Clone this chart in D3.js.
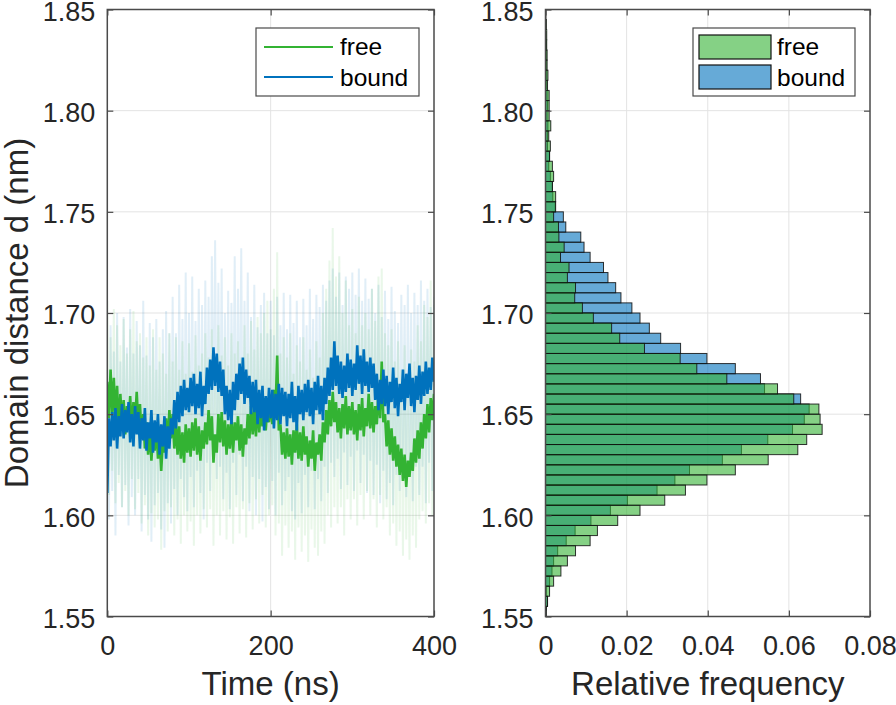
<!DOCTYPE html>
<html>
<head>
<meta charset="utf-8">
<script src="https://cdn.jsdelivr.net/npm/d3@7/dist/d3.min.js"></script>
<style>
html,body{margin:0;padding:0;background:#fff;}
svg{display:block;font-family:"Liberation Sans",Arial,Helvetica,sans-serif;}
</style>
</head>
<body>
<svg id="chart" width="896" height="705"></svg>
<script>
// ---------- DATA ----------
const timeStepNs = 2; // sampling of the plotted traces (0..400 ns)
const timeTicks = [0, 200, 400];
const distTicks = [1.55, 1.60, 1.65, 1.70, 1.75, 1.80, 1.85];
const freqTicks = [0, 0.02, 0.04, 0.06, 0.08];
const seriesNames = ["free", "bound"];

// running averages (thick lines), t = 0,2,...,400 ns
const boundMean = [
1.611,1.648,1.634,1.651,1.637,1.653,1.633,1.649,1.639,1.655,
1.638,1.652,1.641,1.656,1.636,1.650,1.634,1.654,1.640,1.651,
1.633,1.648,1.637,1.653,1.632,1.646,1.638,1.652,1.631,1.647,
1.636,1.650,1.630,1.645,1.634,1.649,1.628,1.644,1.633,1.648,
1.640,1.657,1.643,1.661,1.646,1.664,1.649,1.667,1.652,1.663,
1.651,1.668,1.654,1.670,1.650,1.665,1.653,1.671,1.649,1.664,
1.655,1.673,1.660,1.677,1.662,1.683,1.664,1.680,1.661,1.676,
1.659,1.672,1.650,1.664,1.647,1.662,1.645,1.666,1.652,1.670,
1.657,1.675,1.660,1.678,1.655,1.672,1.658,1.669,1.650,1.666,
1.651,1.667,1.645,1.662,1.648,1.664,1.642,1.659,1.646,1.663,
1.648,1.662,1.643,1.660,1.647,1.665,1.645,1.663,1.649,1.661,
1.644,1.660,1.648,1.666,1.646,1.659,1.642,1.664,1.650,1.662,
1.647,1.665,1.651,1.667,1.649,1.663,1.645,1.666,1.652,1.669,
1.650,1.664,1.647,1.668,1.655,1.673,1.659,1.678,1.662,1.686,
1.664,1.679,1.660,1.676,1.658,1.674,1.661,1.680,1.663,1.677,
1.659,1.675,1.662,1.684,1.665,1.679,1.660,1.682,1.664,1.676,
1.661,1.678,1.663,1.675,1.657,1.670,1.652,1.667,1.655,1.672,
1.654,1.669,1.650,1.666,1.656,1.673,1.653,1.668,1.649,1.665,
1.656,1.672,1.652,1.670,1.658,1.675,1.654,1.668,1.651,1.669,
1.657,1.674,1.655,1.671,1.659,1.676,1.660,1.673,1.662,1.678,
1.666];

const freeMean = [
1.666,1.648,1.672,1.650,1.668,1.646,1.664,1.641,1.660,1.644,
1.657,1.640,1.654,1.643,1.659,1.641,1.656,1.645,1.661,1.644,
1.655,1.638,1.650,1.633,1.646,1.630,1.644,1.627,1.641,1.632,
1.645,1.628,1.640,1.622,1.637,1.631,1.648,1.634,1.652,1.638,
1.650,1.633,1.647,1.630,1.644,1.628,1.641,1.626,1.645,1.631,
1.643,1.629,1.646,1.632,1.648,1.630,1.644,1.627,1.642,1.633,
1.646,1.635,1.652,1.637,1.649,1.626,1.640,1.631,1.650,1.636,
1.651,1.634,1.647,1.630,1.645,1.633,1.648,1.631,1.646,1.637,
1.649,1.632,1.645,1.629,1.643,1.635,1.650,1.638,1.654,1.640,
1.652,1.639,1.656,1.641,1.653,1.644,1.658,1.642,1.655,1.646,
1.657,1.645,1.662,1.652,1.679,1.642,1.645,1.630,1.641,1.628,
1.643,1.629,1.640,1.625,1.642,1.631,1.645,1.628,1.641,1.627,
1.644,1.630,1.639,1.624,1.637,1.628,1.642,1.622,1.636,1.630,
1.640,1.627,1.646,1.636,1.652,1.640,1.657,1.644,1.661,1.646,
1.656,1.641,1.653,1.638,1.655,1.643,1.659,1.640,1.654,1.642,
1.656,1.640,1.652,1.637,1.655,1.642,1.658,1.639,1.653,1.644,
1.660,1.643,1.656,1.641,1.654,1.645,1.662,1.648,1.676,1.646,
1.650,1.634,1.647,1.630,1.643,1.627,1.639,1.624,1.635,1.620,
1.633,1.617,1.630,1.614,1.627,1.619,1.631,1.622,1.638,1.626,
1.642,1.628,1.646,1.633,1.650,1.638,1.655,1.641,1.658,1.647,
1.660];

// raw traces (faint lines), t = 0,2,...,400 ns
const boundRaw = [
1.672,1.598,1.694,1.612,1.681,1.590,1.700,1.620,1.676,1.604,
1.698,1.615,1.683,1.595,1.702,1.609,1.680,1.600,1.696,1.618,
1.684,1.592,1.706,1.610,1.679,1.598,1.695,1.587,1.688,1.605,
1.697,1.611,1.676,1.593,1.692,1.584,1.701,1.606,1.690,1.596,
1.708,1.613,1.690,1.600,1.714,1.618,1.697,1.609,1.720,1.602,
1.700,1.619,1.718,1.604,1.696,1.622,1.712,1.611,1.704,1.598,
1.716,1.626,1.708,1.612,1.728,1.630,1.736,1.618,1.715,1.624,
1.722,1.608,1.700,1.621,1.711,1.603,1.705,1.626,1.728,1.610,
1.712,1.630,1.732,1.607,1.706,1.624,1.720,1.602,1.698,1.619,
1.714,1.600,1.693,1.618,1.704,1.597,1.710,1.614,1.690,1.603,
1.706,1.617,1.689,1.600,1.708,1.621,1.694,1.605,1.710,1.612,
1.692,1.619,1.709,1.602,1.695,1.598,1.706,1.616,1.688,1.601,
1.707,1.620,1.694,1.604,1.712,1.622,1.697,1.603,1.709,1.618,
1.703,1.607,1.714,1.624,1.706,1.611,1.716,1.626,1.722,1.619,
1.708,1.628,1.720,1.613,1.704,1.631,1.718,1.615,1.712,1.629,
1.720,1.612,1.709,1.632,1.722,1.616,1.706,1.630,1.717,1.611,
1.707,1.627,1.712,1.610,1.700,1.625,1.714,1.606,1.698,1.622,
1.711,1.608,1.697,1.616,1.713,1.605,1.701,1.620,1.695,1.612,
1.709,1.618,1.704,1.609,1.714,1.622,1.700,1.607,1.710,1.624,
1.704,1.610,1.716,1.624,1.706,1.606,1.712,1.626,1.703,1.612,
1.708];

const freeRaw = [
1.706,1.610,1.688,1.622,1.702,1.606,1.694,1.616,1.684,1.604,
1.697,1.612,1.680,1.600,1.692,1.618,1.701,1.603,1.686,1.611,
1.690,1.596,1.678,1.605,1.688,1.590,1.674,1.601,1.692,1.594,
1.672,1.598,1.688,1.583,1.680,1.602,1.670,1.592,1.690,1.604,
1.676,1.590,1.688,1.598,1.672,1.586,1.686,1.600,1.670,1.592,
1.685,1.597,1.671,1.585,1.689,1.600,1.674,1.591,1.680,1.603,
1.690,1.594,1.678,1.603,1.692,1.585,1.676,1.600,1.694,1.590,
1.679,1.602,1.688,1.588,1.674,1.599,1.690,1.586,1.680,1.604,
1.686,1.591,1.678,1.603,1.694,1.589,1.680,1.606,1.696,1.593,
1.682,1.608,1.698,1.596,1.690,1.610,1.700,1.594,1.706,1.600,
1.692,1.605,1.712,1.590,1.730,1.596,1.680,1.580,1.688,1.595,
1.678,1.584,1.690,1.592,1.670,1.578,1.684,1.594,1.676,1.582,
1.688,1.590,1.672,1.577,1.682,1.593,1.668,1.584,1.686,1.580,
1.678,1.592,1.700,1.586,1.712,1.600,1.726,1.594,1.742,1.604,
1.718,1.596,1.728,1.604,1.700,1.590,1.716,1.608,1.694,1.598,
1.702,1.608,1.690,1.595,1.708,1.610,1.694,1.598,1.700,1.612,
1.692,1.600,1.712,1.608,1.696,1.594,1.718,1.610,1.722,1.598,
1.690,1.604,1.684,1.590,1.692,1.596,1.676,1.585,1.686,1.592,
1.672,1.580,1.684,1.588,1.668,1.578,1.682,1.590,1.676,1.584,
1.694,1.598,1.686,1.602,1.704,1.596,1.698,1.606,1.716,1.600,
1.704];

// histogram: bin edges (nm) and relative frequency per bin
const binEdges = [1.550,1.555,1.560,1.565,1.570,1.575,1.580,1.585,1.590,1.595,
1.600,1.605,1.610,1.615,1.620,1.625,1.630,1.635,1.640,1.645,
1.650,1.655,1.660,1.665,1.670,1.675,1.680,1.685,1.690,1.695,
1.700,1.705,1.710,1.715,1.720,1.725,1.730,1.735,1.740,1.745,
1.750,1.755,1.760,1.765,1.770,1.775,1.780,1.785,1.790,1.795,
1.800,1.805,1.810,1.815,1.820,1.825,1.830,1.835,1.840,1.845,1.850];

const freeHist = [
0.0002,0.0005,0.0010,0.0020,0.0038,0.0054,0.0074,0.0110,0.0128,0.0178,
0.0233,0.0294,0.0345,0.0398,0.0468,0.0549,0.0622,0.0644,0.0682,0.0677,
0.0674,0.0612,0.0572,0.0447,0.0373,0.0332,0.0244,0.0183,0.0163,0.0118,
0.0091,0.0072,0.0074,0.0054,0.0058,0.0037,0.0046,0.0033,0.0032,0.0020,
0.0025,0.0025,0.0017,0.0020,0.0017,0.0010,0.0012,0.0008,0.0013,0.0009,
0.0009,0.0009,0.0005,0.0006,0.0004,0.0004,0.0003,0.0003,0.0002,0.0001];

const boundHist = [
0.0002,0.0005,0.0002,0.0010,0.0016,0.0020,0.0030,0.0051,0.0073,0.0112,
0.0160,0.0202,0.0275,0.0319,0.0355,0.0436,0.0483,0.0548,0.0609,0.0638,
0.0650,0.0629,0.0540,0.0530,0.0468,0.0398,0.0333,0.0284,0.0256,0.0233,
0.0213,0.0186,0.0173,0.0154,0.0143,0.0110,0.0095,0.0087,0.0050,0.0044,
0.0024,0.0018,0.0017,0.0012,0.0008,0.0010,0.0005,0.0005,0.0006,0.0004,
0.0005,0.0004,0.0003,0.0003,0.0002,0.0002,0.0002,0.0001,0.0001,0.0000];

// ---------- STYLE ----------
const GREEN = "#33b333", BLUE = "#0072bd";
const TXT = "#262626", AXC = "#4a4a4a", GRID = "#e3e3e3";
const FONT = '"Liberation Sans",Arial,Helvetica,sans-serif';

const svg = d3.select("#chart");
const time = d3.range(0, 401, timeStepNs);

const yScale = d3.scaleLinear().domain([1.55, 1.85]).range([616.5, 9.5]);
const xL = d3.scaleLinear().domain([0, 400]).range([107.3, 434]);
const xR = d3.scaleLinear().domain([0, 0.08]).range([545.5, 870]);

function grid(g, x, xTicks) {
  const [x0, x1] = x.range();
  const [y0, y1] = yScale.range();
  g.append("g").selectAll("line").data(xTicks.slice(1, -1)).join("line")
    .attr("x1", d => x(d)).attr("x2", d => x(d)).attr("y1", y1).attr("y2", y0)
    .attr("stroke", GRID).attr("stroke-width", 1);
  g.append("g").selectAll("line").data(distTicks.slice(1, -1)).join("line")
    .attr("y1", d => yScale(d)).attr("y2", d => yScale(d)).attr("x1", x0).attr("x2", x1)
    .attr("stroke", GRID).attr("stroke-width", 1);
}

function axes(g, x, xTicks, xFmt) {
  const [x0, x1] = x.range();
  const [y0, y1] = yScale.range();
  const tl = 6;
  const ax = d3.axisBottom(x).tickValues(xTicks).tickFormat(xFmt).tickSizeInner(-tl).tickSizeOuter(0);
  const gb = g.append("g").attr("transform", `translate(0,${y0})`).call(ax);
  const ay = d3.axisLeft(yScale).tickValues(distTicks).tickFormat(d3.format(".2f")).tickSizeInner(-tl).tickSizeOuter(0);
  const gl = g.append("g").attr("transform", `translate(${x0},0)`).call(ay);
  const at = d3.axisTop(x).tickValues(xTicks).tickFormat("").tickSizeInner(-tl).tickSizeOuter(0);
  const gt = g.append("g").attr("transform", `translate(0,${y1})`).call(at);
  const ar = d3.axisRight(yScale).tickValues(distTicks).tickFormat("").tickSizeInner(-tl).tickSizeOuter(0);
  const gr = g.append("g").attr("transform", `translate(${x1},0)`).call(ar);
  [gb, gl, gt, gr].forEach(s => {
    s.select(".domain").remove();
    s.selectAll(".tick line").attr("stroke", AXC).attr("stroke-width", 1.2);
    s.selectAll(".tick text").attr("fill", TXT).attr("font-size", 27).attr("font-family", FONT);
  });
  gb.selectAll(".tick text").attr("y", 19).attr("dy", "0.71em");
  gl.selectAll(".tick text").attr("x", -12).attr("dy", "0.40em");
  g.append("rect").attr("x", x0).attr("y", y1).attr("width", x1 - x0).attr("height", y0 - y1)
    .attr("fill", "none").attr("stroke", AXC).attr("stroke-width", 1.5);
}

// ---------- LEFT PANEL: time series ----------
const gL = svg.append("g");
grid(gL, xL, timeTicks);
svg.append("defs").append("clipPath").attr("id", "clipL").append("rect")
  .attr("x", xL(0)).attr("y", yScale(1.85)).attr("width", xL(400) - xL(0)).attr("height", yScale(1.55) - yScale(1.85));
const plotL = gL.append("g").attr("clip-path", "url(#clipL)");
const line = d3.line().x((d, i) => xL(time[i])).y(d => yScale(d));

plotL.append("path").datum(boundRaw).attr("d", line).attr("fill", "none")
  .attr("stroke", BLUE).attr("stroke-opacity", 0.12).attr("stroke-width", 2);
plotL.append("path").datum(freeRaw).attr("d", line).attr("fill", "none")
  .attr("stroke", GREEN).attr("stroke-opacity", 0.11).attr("stroke-width", 2);
plotL.append("path").datum(freeMean).attr("d", line).attr("fill", "none")
  .attr("stroke", GREEN).attr("stroke-width", 2.6);
plotL.append("path").datum(boundMean).attr("d", line).attr("fill", "none")
  .attr("stroke", BLUE).attr("stroke-width", 2.6);

axes(gL, xL, timeTicks, d3.format("d"));

// legend left
const lgL = gL.append("g");
lgL.append("rect").attr("x", 256).attr("y", 28).attr("width", 163).attr("height", 68)
  .attr("fill", "#fff").attr("stroke", AXC).attr("stroke-width", 1.2);
[[GREEN, 47, 55], [BLUE, 77, 86]].forEach(([c, ly, ty], i) => {
  lgL.append("line").attr("x1", 264).attr("x2", 333).attr("y1", ly).attr("y2", ly)
    .attr("stroke", c).attr("stroke-width", 2.2);
  lgL.append("text").attr("x", 340).attr("y", ty).text(seriesNames[i])
    .attr("font-size", 24.5).attr("fill", "#000");
});

// ---------- RIGHT PANEL: histogram ----------
const gR = svg.append("g");
grid(gR, xR, freqTicks);
const hb = gR.append("g");
function bars(data, color) {
  hb.append("g").selectAll("rect").data(data).join("rect")
    .attr("x", xR(0))
    .attr("y", (d, i) => yScale(binEdges[i + 1]))
    .attr("width", d => xR(d) - xR(0))
    .attr("height", (d, i) => yScale(binEdges[i]) - yScale(binEdges[i + 1]))
    .attr("fill", color).attr("fill-opacity", 0.6)
    .attr("stroke", "#111").attr("stroke-opacity", 0.85).attr("stroke-width", 1);
}
bars(boundHist, BLUE);
bars(freeHist, GREEN);

axes(gR, xR, freqTicks, d => d === 0 ? "0" : d3.format(".2f")(d));

// legend right
const lgR = gR.append("g");
lgR.append("rect").attr("x", 693).attr("y", 28).attr("width", 162).attr("height", 68)
  .attr("fill", "#fff").attr("stroke", AXC).attr("stroke-width", 1.2);
[[GREEN, 35, 55], [BLUE, 65, 86]].forEach(([c, py, ty], i) => {
  lgR.append("rect").attr("x", 699).attr("y", py).attr("width", 72).attr("height", 24)
    .attr("fill", c).attr("fill-opacity", 0.6).attr("stroke", "#111").attr("stroke-width", 1.2);
  lgR.append("text").attr("x", 777).attr("y", ty).text(seriesNames[i])
    .attr("font-size", 24.5).attr("fill", "#000");
});

// ---------- axis labels ----------
svg.append("text").attr("x", (xL(0) + xL(400)) / 2).attr("y", 695).attr("text-anchor", "middle")
  .attr("font-size", 33).attr("fill", TXT).text("Time (ns)");
svg.append("text").attr("x", (xR(0) + xR(0.08)) / 2).attr("y", 695).attr("text-anchor", "middle")
  .attr("font-size", 33).attr("fill", TXT).text("Relative frequency");
svg.append("text").attr("transform", `translate(28,${(yScale(1.55) + yScale(1.85)) / 2}) rotate(-90)`)
  .attr("text-anchor", "middle").attr("font-size", 33).attr("fill", TXT).text("Domain distance d (nm)");
</script>
</body>
</html>
